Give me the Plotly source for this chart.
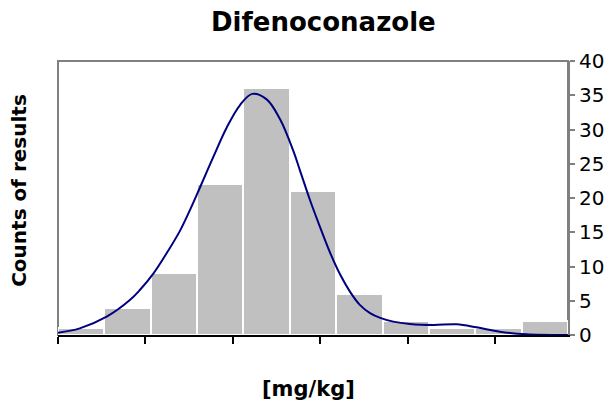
import plotly.graph_objects as go

# Histogram bins (bin index units, 11 equal bins) and counts
bin_centers = [0.5, 1.5, 2.5, 3.5, 4.5, 5.5, 6.5, 7.5, 8.5, 9.5, 10.5]
counts = [1, 4, 9, 22, 36, 21, 6, 2, 1, 1, 2]

# Fitted density curve, x in bin units, y in counts
curve_x = [0.0, 0.47, 1.05, 1.55, 1.77, 2.06, 2.34, 2.63, 2.85, 3.06, 3.35, 3.64,
           3.93, 4.19, 4.50, 4.79, 5.08, 5.22, 5.44, 5.65, 5.87, 6.08, 6.30, 6.51,
           6.73, 6.95, 7.23, 7.59, 8.1, 8.6, 9.03, 9.53, 10.1, 11.0]
curve_y = [0.34, 0.97, 2.67, 5.1, 6.6, 9.0, 11.9, 15.2, 18.3, 21.5, 26.0, 30.3,
           33.6, 35.2, 34.4, 31.5, 26.8, 24.0, 19.6, 15.8, 12.0, 8.9, 6.3, 4.4,
           3.2, 2.5, 1.95, 1.6, 1.46, 1.56, 1.12, 0.48, 0.1, 0.0]

y_ticks = [0, 5, 10, 15, 20, 25, 30, 35, 40]
x_tick_step = 1.887  # tick spacing in bin units

fig = go.Figure()
fig.add_trace(go.Bar(
    x=bin_centers, y=counts, width=1.0,
    marker=dict(color="#C0C0C0", line=dict(color="white", width=2)),
    showlegend=False, hoverinfo="skip"))
fig.add_trace(go.Scatter(
    x=curve_x, y=curve_y, mode="lines",
    line=dict(color="#000080", width=2, shape="spline", smoothing=1.0),
    showlegend=False, hoverinfo="skip"))

fig.add_shape(type="rect", xref="paper", yref="paper", x0=0, x1=1, y0=0, y1=1,
              line=dict(color="#808080", width=2), layer="below")

fig.update_layout(
    width=615, height=403,
    margin=dict(l=50, r=55, t=53, b=76, autoexpand=False),
    paper_bgcolor="white", plot_bgcolor="white",
    font=dict(family="DejaVu Sans", color="black"),
    bargap=0,
    xaxis=dict(range=[0, 11], showgrid=False, zeroline=False, showline=True,
               linecolor="black", linewidth=2, ticks="outside", ticklen=7,
               tickwidth=2, tickcolor="black", tick0=0, dtick=x_tick_step,
               showticklabels=False, fixedrange=True, automargin=False),
    yaxis=dict(range=[0, 40], side="right", tickvals=y_ticks, showgrid=False,
               zeroline=False, showline=True, linecolor="#808080", linewidth=2,
               ticks="outside", ticklen=5, tickwidth=2, tickcolor="#808080",
               tickfont=dict(size=20, family="DejaVu Sans", color="black"),
               fixedrange=True, automargin=False),
    annotations=[
        dict(text="<b>Difenoconazole</b>", xref="paper", yref="paper", x=0.52, y=1.142,
             xanchor="center", yanchor="middle", showarrow=False,
             font=dict(size=26, family="DejaVu Sans", color="black")),
        dict(text="<b>[mg/kg]</b>", xref="paper", yref="paper", x=0.492, y=-0.197,
             xanchor="center", yanchor="middle", showarrow=False,
             font=dict(size=21, family="DejaVu Sans", color="black")),
        dict(text="<b>Counts of results</b>", xref="paper", yref="paper",
             x=-0.078, y=0.527, xanchor="center", yanchor="middle", textangle=-90,
             showarrow=False, font=dict(size=20, family="DejaVu Sans", color="black")),
    ],
)

fig.write_html("out.html")
